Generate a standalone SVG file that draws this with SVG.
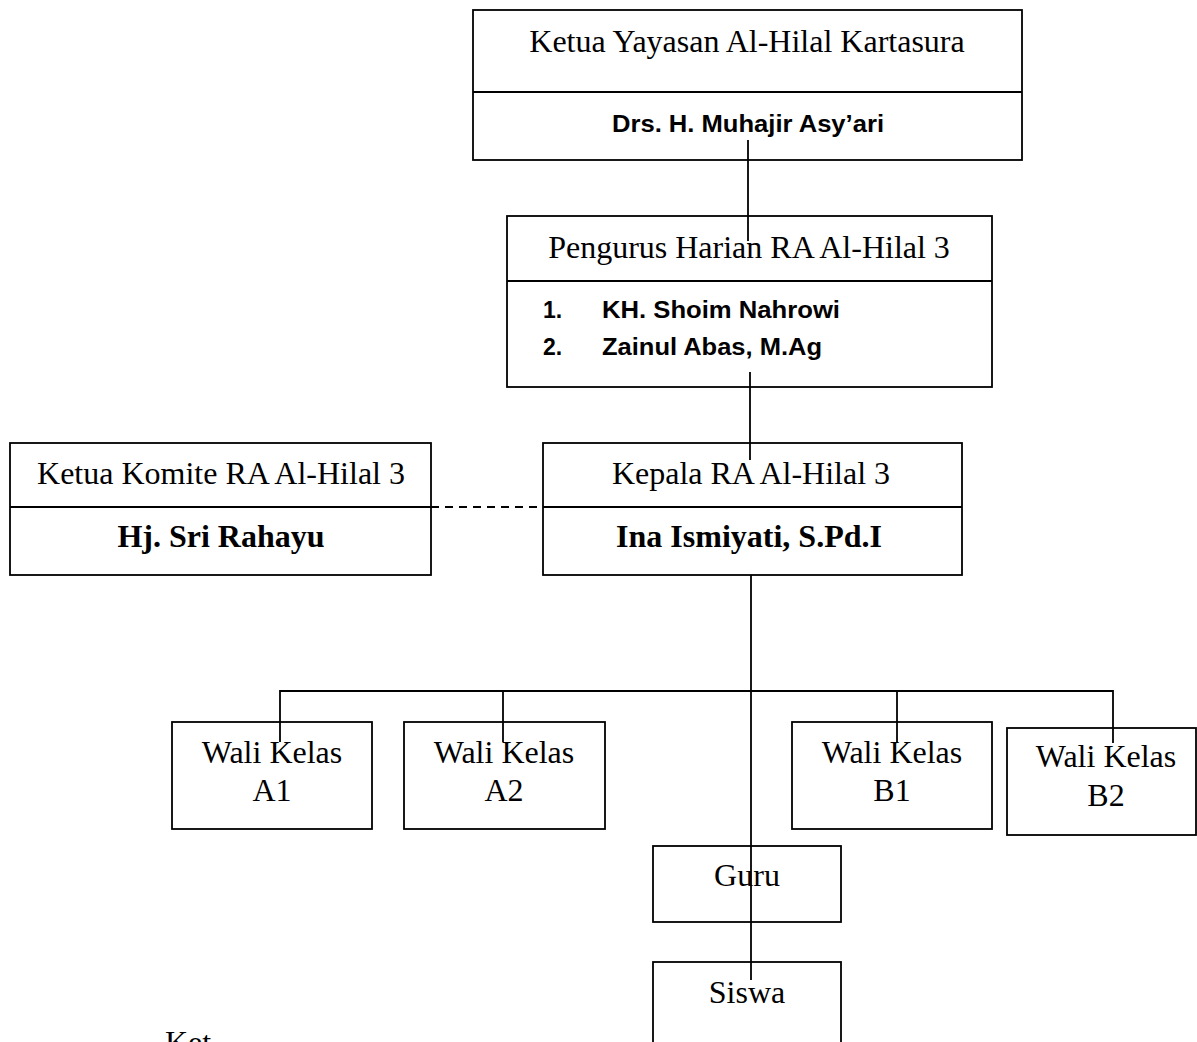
<svg xmlns="http://www.w3.org/2000/svg" width="1197" height="1042" viewBox="0 0 1197 1042">
<style>
.box{fill:none;stroke:#000;stroke-width:1.8}
.ln{stroke:#000;stroke-width:1.8;fill:none}
.t{font-family:"Liberation Serif","Times New Roman",serif;font-size:32px;fill:#000}
.tb{font-family:"Liberation Serif","Times New Roman",serif;font-size:32px;font-weight:bold;fill:#000}
.s{font-family:"Liberation Sans",Arial,sans-serif;font-size:23px;font-weight:bold;fill:#000}
.c{text-anchor:middle}
</style>
<rect width="1197" height="1042" fill="#fff"/>
<g id="connectors">
<line class="ln" x1="748" y1="140" x2="748" y2="241"/>
<line class="ln" x1="750" y1="372" x2="750" y2="460"/>
<line class="ln" x1="431" y1="507" x2="543" y2="507" stroke-dasharray="8,6"/>
<line class="ln" x1="751" y1="575" x2="751" y2="980"/>
<polyline class="ln" points="280,742 280,691 1113,691 1113,743"/>
<line class="ln" x1="503" y1="691" x2="503" y2="742"/>
<line class="ln" x1="897" y1="691" x2="897" y2="742"/>
</g>
<g id="yayasan">
<rect class="box" x="473" y="10" width="549" height="150"/>
<line class="ln" x1="473" y1="92" x2="1022" y2="92"/>
<text class="t c" x="747" y="52">Ketua Yayasan Al-Hilal Kartasura</text>
<text class="s" x="612" y="132" textLength="272" lengthAdjust="spacingAndGlyphs">Drs. H. Muhajir Asy’ari</text>
</g>
<g id="pengurus">
<rect class="box" x="507" y="216" width="485" height="171"/>
<line class="ln" x1="507" y1="281" x2="992" y2="281"/>
<text class="t c" x="749" y="258">Pengurus Harian RA Al-Hilal 3</text>
<text class="s" x="543" y="318">1.</text>
<text class="s" x="602" y="318" textLength="238" lengthAdjust="spacingAndGlyphs">KH. Shoim Nahrowi</text>
<text class="s" x="543" y="355">2.</text>
<text class="s" x="602" y="355" textLength="220" lengthAdjust="spacingAndGlyphs">Zainul Abas, M.Ag</text>
</g>
<g id="komite">
<rect class="box" x="10" y="443" width="421" height="132"/>
<line class="ln" x1="10" y1="507" x2="431" y2="507"/>
<text class="t c" x="221" y="484">Ketua Komite RA Al-Hilal 3</text>
<text class="tb c" x="221" y="547">Hj. Sri Rahayu</text>
</g>
<g id="kepala">
<rect class="box" x="543" y="443" width="419" height="132"/>
<line class="ln" x1="543" y1="507" x2="962" y2="507"/>
<text class="t c" x="751" y="484">Kepala RA Al-Hilal 3</text>
<text class="tb c" x="749" y="547">Ina Ismiyati, S.Pd.I</text>
</g>
<g id="a1">
<rect class="box" x="172" y="722" width="200" height="107"/>
<text class="t c" x="272" y="763">Wali Kelas</text>
<text class="t c" x="272" y="801">A1</text>
</g>
<g id="a2">
<rect class="box" x="404" y="722" width="201" height="107"/>
<text class="t c" x="504" y="763">Wali Kelas</text>
<text class="t c" x="504" y="801">A2</text>
</g>
<g id="b1">
<rect class="box" x="792" y="722" width="200" height="107"/>
<text class="t c" x="892" y="763">Wali Kelas</text>
<text class="t c" x="892" y="801">B1</text>
</g>
<g id="b2">
<rect class="box" x="1007" y="728" width="189" height="107"/>
<text class="t c" x="1106" y="767">Wali Kelas</text>
<text class="t c" x="1106" y="806">B2</text>
</g>
<g id="guru">
<rect class="box" x="653" y="846" width="188" height="76"/>
<text class="t c" x="747" y="886">Guru</text>
</g>
<g id="siswa">
<rect class="box" x="653" y="962" width="188" height="90"/>
<text class="t c" x="747" y="1003">Siswa</text>
</g>
<text class="t" x="165" y="1053">Ket</text>
</svg>
